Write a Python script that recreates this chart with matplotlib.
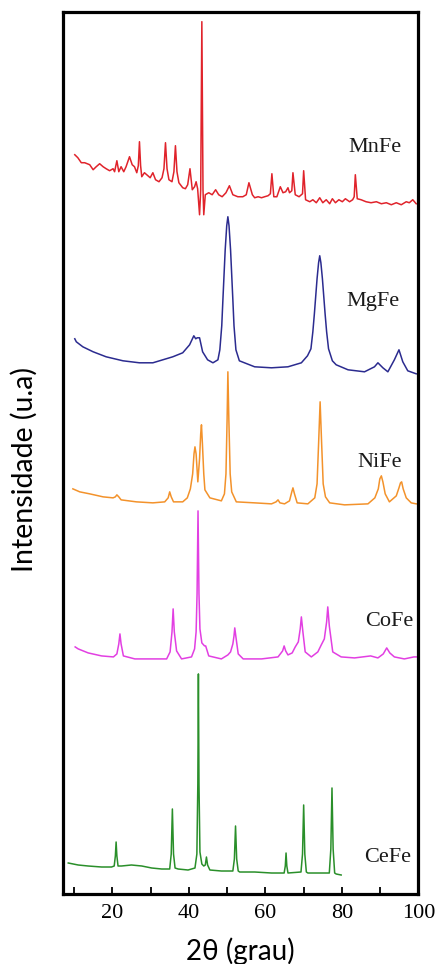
#!/usr/bin/env python3
"""
DRX stacked patterns: MnFe, MgFe, NiFe, CoFe, CeFe
"""

import matplotlib
matplotlib.use('Agg')
import matplotlib.pyplot as plt
from matplotlib.ticker import MultipleLocator

# (2theta, intensity u.a.), curves already offset
mnfe = [(10.2, 739), (11.0, 736), (11.9, 731), (12.8, 731), (14.1, 729), (15.0, 724),
        (15.8, 727), (16.7, 730), (17.6, 727), (18.4, 725), (19.3, 723), (20.2, 725),
        (20.6, 722), (21.2, 733), (21.7, 722), (22.3, 727), (23.0, 722), (23.6, 727),
        (24.5, 737), (25.2, 729), (25.8, 727), (26.4, 721), (26.8, 728), (27.1, 752),
        (27.4, 728), (27.7, 717), (28.4, 721), (29.3, 718), (29.9, 716), (30.6, 721),
        (31.3, 714), (32.2, 712), (33.0, 716), (33.5, 725), (33.9, 751), (34.3, 725),
        (34.8, 714), (35.6, 712), (36.1, 722), (36.5, 748), (36.9, 722), (37.4, 711),
        (38.4, 706), (39.1, 705), (39.7, 709), (40.3, 725), (40.9, 704), (41.5, 707),
        (41.9, 712), (42.3, 705), (42.8, 679), (43.1, 704), (43.4, 872), (43.7, 704),
        (43.9, 679), (44.3, 699), (45.2, 701), (46.1, 699), (47.0, 704), (47.8, 699),
        (48.7, 697), (49.7, 701), (50.6, 708), (51.5, 699), (52.8, 697), (54.1, 697),
        (55.0, 699), (55.7, 711), (56.6, 699), (57.2, 696), (58.1, 697), (59.0, 696),
        (59.8, 697), (60.7, 698), (61.3, 700), (61.7, 720), (62.2, 697), (63.0, 697),
        (63.9, 707), (64.6, 701), (65.3, 702), (65.9, 706), (66.3, 701), (66.9, 703),
        (67.2, 721), (67.8, 699), (68.8, 697), (69.7, 700), (70.0, 723), (70.5, 694),
        (71.6, 692), (72.4, 694), (73.3, 691), (74.2, 696), (75.0, 691), (75.9, 694),
        (76.8, 690), (77.5, 695), (78.3, 691), (79.2, 694), (80.1, 692), (80.9, 695),
        (82.0, 692), (82.8, 694), (83.2, 697), (83.5, 719), (84.0, 695), (85.0, 694),
        (86.3, 692), (87.6, 691), (89.0, 692), (90.3, 690), (91.6, 691), (92.9, 689),
        (94.2, 691), (95.5, 689), (96.8, 692), (97.6, 691), (98.5, 694), (99.4, 690)]

mgfe = [(10.2, 555), (10.6, 552), (12.3, 547), (15.0, 542), (18.4, 537), (22.8, 533),
        (27.1, 531), (30.6, 531), (33.2, 534), (35.8, 537), (38.4, 541), (40.2, 549),
        (41.3, 558), (41.8, 555), (42.2, 556), (42.8, 556), (43.6, 542), (44.9, 534),
        (46.3, 531), (47.6, 534), (48.1, 544), (48.6, 568), (48.9, 594), (49.5, 644),
        (49.9, 668), (50.2, 677), (50.5, 668), (50.9, 644), (51.5, 594), (51.8, 568),
        (52.3, 544), (53.2, 533), (57.2, 527), (61.6, 526), (65.9, 527), (69.4, 531),
        (71.0, 538), (71.9, 545), (72.4, 562), (72.8, 580), (73.5, 615), (73.9, 631),
        (74.2, 638), (74.5, 631), (74.9, 615), (75.6, 580), (76.0, 562), (76.5, 545),
        (77.5, 533), (78.5, 529), (81.6, 524), (85.9, 522), (88.5, 527), (89.4, 531),
        (90.7, 526), (92.0, 522), (93.7, 534), (94.9, 544), (95.9, 532), (97.2, 523),
        (99.4, 520)]

nife = [(9.7, 405), (11.5, 402), (14.1, 400), (17.6, 397), (20.2, 396), (20.8, 397),
        (21.2, 399), (21.7, 397), (22.3, 394), (26.3, 392), (30.6, 391), (33.7, 392),
        (34.6, 396), (35.0, 402), (35.4, 397), (36.0, 392), (38.4, 392), (39.6, 396),
        (40.4, 405), (41.0, 420), (41.35, 440), (41.6, 447), (41.9, 440), (42.35, 412),
        (42.8, 435), (43.1, 460), (43.3, 469), (43.55, 450), (43.9, 420), (44.2, 404),
        (45.5, 396), (48.5, 393), (49.3, 400), (49.7, 420), (50.0, 475), (50.2, 522),
        (50.45, 475), (50.8, 420), (51.2, 402), (52.4, 392), (57.2, 391), (61.6, 390),
        (62.8, 392), (63.3, 394), (63.8, 391), (65.0, 390), (66.3, 393), (66.9, 402),
        (67.2, 406), (67.6, 400), (68.3, 391), (71.1, 390), (72.9, 396), (73.5, 410),
        (73.9, 450), (74.3, 492), (74.7, 450), (75.1, 410), (75.7, 397), (76.8, 391),
        (80.7, 389), (86.8, 390), (88.6, 396), (89.5, 405), (89.9, 415), (90.3, 418),
        (90.7, 412), (91.3, 400), (92.4, 392), (94.2, 398), (94.9, 406), (95.3, 411),
        (95.6, 412), (96.0, 405), (96.8, 396), (98.1, 391), (99.4, 390)]

cofe = [(10.3, 247), (11.1, 245), (13.7, 241), (17.2, 238), (20.3, 237), (21.2, 240),
        (21.7, 250), (22.0, 260), (22.3, 250), (22.9, 238), (25.9, 235), (30.3, 235),
        (34.2, 235), (35.1, 242), (35.6, 262), (35.9, 285), (36.2, 262), (36.8, 243),
        (38.1, 235), (40.7, 237), (41.5, 245), (41.9, 262), (42.15, 300), (42.4, 383),
        (42.65, 300), (42.9, 265), (43.4, 251), (44.1, 248), (44.4, 248), (44.8, 243),
        (45.2, 238), (48.5, 235), (50.2, 239), (50.9, 242), (51.5, 250), (51.8, 258),
        (52.0, 266), (52.3, 257), (52.9, 240), (54.2, 235), (59.0, 235), (63.3, 237),
        (64.5, 243), (64.9, 248), (65.3, 243), (65.9, 239), (67.0, 241), (67.8, 247),
        (68.6, 252), (69.1, 265), (69.4, 277), (69.8, 262), (70.4, 242), (72.0, 237),
        (73.7, 242), (74.6, 249), (75.4, 255), (76.0, 272), (76.3, 287), (76.7, 268),
        (77.6, 242), (79.8, 237), (83.3, 236), (87.5, 238), (89.4, 236), (90.8, 240),
        (91.7, 246), (92.5, 241), (93.7, 237), (96.3, 235), (98.8, 237), (99.4, 237)]

cefe = [(8.5, 31), (11.1, 29), (13.7, 28), (17.2, 27), (19.8, 27), (20.5, 28),
        (20.8, 38), (21.0, 52), (21.2, 38), (21.5, 28), (22.4, 28), (25.0, 29),
        (27.7, 28), (30.3, 26), (32.9, 25), (35.0, 25), (35.4, 40), (35.7, 85),
        (36.0, 40), (36.4, 26), (37.2, 25), (39.8, 24), (41.6, 26), (42.1, 40),
        (42.35, 110), (42.5, 220), (42.65, 110), (42.9, 42), (43.4, 30), (43.9, 28),
        (44.3, 29), (44.6, 37), (44.9, 29), (45.5, 24), (48.5, 23), (51.5, 23),
        (51.9, 35), (52.2, 68), (52.5, 35), (52.9, 23), (53.3, 22), (57.2, 22),
        (61.6, 21), (64.9, 21), (65.2, 28), (65.4, 41), (65.6, 28), (65.9, 21),
        (69.3, 22), (69.7, 40), (70.0, 89), (70.3, 40), (70.7, 22), (71.1, 21),
        (74.6, 21), (76.7, 21), (77.1, 45), (77.4, 106), (77.7, 45), (78.1, 21),
        (78.5, 20), (79.8, 19)]

samples = ['MnFe', 'MgFe', 'NiFe', 'CoFe', 'CeFe']
patterns = [mnfe, mgfe, nife, cofe, cefe]
colors = ['#E0232B', '#2B2B8F', '#F3922B', '#E23FE2', '#2A8F2A']
label_pos = [(88.5, 746), (88.2, 592), (89.8, 431), (92.4, 272), (91.9, 36)]

fig = plt.figure(figsize=(4.42, 9.64), dpi=100, facecolor='white')
ax = fig.add_axes([0.1432, 0.0726, 0.8036, 0.9153])

for name, data, color, (lx, ly) in zip(samples, patterns, colors, label_pos):
    xs = [p[0] for p in data]
    ys = [p[1] for p in data]
    ax.plot(xs, ys, color=color, linewidth=1.1)
    ax.text(lx, ly, name, ha='center', va='center', fontsize=16,
            family='Liberation Serif', color='#1a1a1a')

ax.set_xlim(7.2, 100)
ax.set_ylim(0, 882)

ax.xaxis.set_major_locator(MultipleLocator(20))
ax.xaxis.set_minor_locator(MultipleLocator(10))
ax.tick_params(axis='x', which='both', direction='in', length=5, width=1.3,
               top=False, pad=7)
ax.tick_params(axis='x', labelsize=16)
for lab in ax.get_xticklabels():
    lab.set_family('Liberation Serif')
ax.set_yticks([])

for sp in ax.spines.values():
    sp.set_linewidth(2.3)

ax.set_xlabel('2\u03b8 (grau)', fontsize=20, family=['Lato', 'DejaVu Sans'])
ax.xaxis.set_label_coords(0.497, -0.049)
ax.set_ylabel('Intensidade (u.a)', fontsize=20.5, family=['Lato', 'DejaVu Sans'])
ax.yaxis.set_label_coords(-0.073, 0.481)

fig.savefig('out.png', dpi=100, facecolor='white')
